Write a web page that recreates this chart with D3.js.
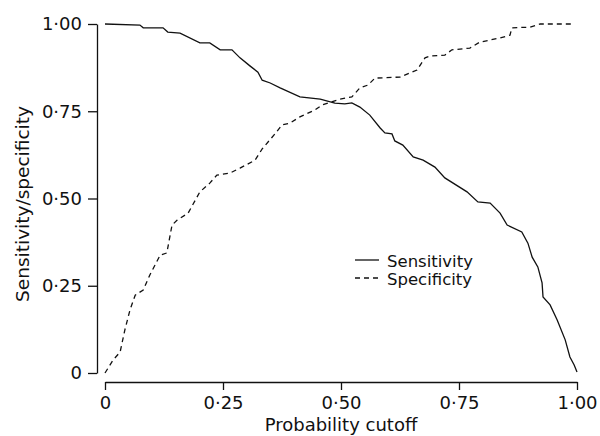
<!DOCTYPE html>
<html>
<head>
<meta charset="utf-8">
<script src="https://cdn.jsdelivr.net/npm/d3@7"></script>
<style>
  body { margin: 0; background: #fff; }
  text { font-family: "DejaVu Sans", sans-serif; fill: #111; }
</style>
</head>
<body>
<script>
// values (x = probability cutoff)
const sensCutoff = [0, 0.074, 0.081, 0.123, 0.133, 0.159, 0.201, 0.222, 0.244, 0.269, 0.286, 0.307, 0.324, 0.333, 0.350, 0.371, 0.413, 0.456, 0.487, 0.508, 0.523, 0.540, 0.561, 0.583, 0.593, 0.608, 0.614, 0.631, 0.653, 0.674, 0.699, 0.720, 0.767, 0.790, 0.816, 0.837, 0.852, 0.883, 0.896, 0.905, 0.917, 0.926, 0.928, 0.943, 0.958, 0.975, 0.985, 0.994, 1.0];
const sensitivity = [1.0, 0.997, 0.989, 0.989, 0.977, 0.974, 0.946, 0.946, 0.926, 0.926, 0.903, 0.880, 0.862, 0.839, 0.831, 0.817, 0.791, 0.785, 0.773, 0.771, 0.774, 0.762, 0.739, 0.702, 0.688, 0.685, 0.665, 0.653, 0.619, 0.610, 0.590, 0.559, 0.519, 0.490, 0.487, 0.458, 0.424, 0.404, 0.372, 0.332, 0.304, 0.258, 0.218, 0.195, 0.152, 0.095, 0.046, 0.023, 0.003];

const specCutoff = [0, 0.017, 0.032, 0.042, 0.053, 0.064, 0.081, 0.095, 0.117, 0.131, 0.142, 0.153, 0.176, 0.201, 0.222, 0.237, 0.265, 0.286, 0.318, 0.333, 0.360, 0.375, 0.392, 0.413, 0.445, 0.460, 0.498, 0.523, 0.540, 0.557, 0.572, 0.625, 0.661, 0.678, 0.689, 0.720, 0.735, 0.773, 0.794, 0.837, 0.858, 0.862, 0.900, 0.922, 0.992];
const specificity = [0, 0.037, 0.060, 0.123, 0.181, 0.223, 0.238, 0.281, 0.338, 0.344, 0.424, 0.438, 0.458, 0.519, 0.544, 0.567, 0.573, 0.587, 0.610, 0.642, 0.685, 0.711, 0.716, 0.734, 0.754, 0.768, 0.785, 0.791, 0.817, 0.825, 0.845, 0.848, 0.868, 0.903, 0.908, 0.911, 0.926, 0.931, 0.948, 0.960, 0.968, 0.989, 0.991, 1.0, 1.0];

const ticks = [0, 0.25, 0.5, 0.75, 1];
const tickLabels = ["0", "0·25", "0·50", "0·75", "1·00"];
const seriesNames = ["Sensitivity", "Specificity"];

const width = 600, height = 436;

const svg = d3.select('body')
    .append('svg')
    .attr('width', width)
    .attr('height', height);

const x = d3.scaleLinear().domain([0, 1]).range([105, 577]);
const y = d3.scaleLinear().domain([0, 1]).range([373, 24]);

// y axis sits a bit left of x = 0, x axis a bit below y = 0
svg.append('g')
    .attr('transform', 'translate(97,0)')
    .call(d3.axisLeft(y).tickValues(ticks).tickSize(9).tickSizeOuter(0).tickPadding(6)
        .tickFormat((d, i) => tickLabels[i]));

svg.append('g')
    .attr('transform', 'translate(0,382)')
    .call(d3.axisBottom(x).tickValues(ticks).tickSize(8).tickSizeOuter(0).tickPadding(6)
        .tickFormat((d, i) => tickLabels[i]));

svg.selectAll('.domain, .tick line')
    .attr('stroke', '#111')
    .attr('stroke-width', 1.3);
svg.selectAll('.tick text')
    .style('font-family', '"DejaVu Sans", sans-serif')
    .style('font-size', '18px')
    .attr('fill', '#111');

svg.append('text')
    .attr('x', 341)
    .attr('y', 431)
    .attr('text-anchor', 'middle')
    .style('font-size', '18px')
    .text('Probability cutoff');

svg.append('text')
    .attr('transform', 'translate(29,204) rotate(-90)')
    .attr('text-anchor', 'middle')
    .style('font-size', '18.5px')
    .text('Sensitivity/specificity');

const line = d3.line()
    .x(d => x(d[0]))
    .y(d => y(d[1]));

svg.append('path')
    .datum(d3.zip(sensCutoff, sensitivity))
    .attr('d', line)
    .attr('fill', 'none')
    .attr('stroke', '#111')
    .attr('stroke-width', 1.3);

svg.append('path')
    .datum(d3.zip(specCutoff, specificity))
    .attr('d', line)
    .attr('fill', 'none')
    .attr('stroke', '#111')
    .attr('stroke-width', 1.3)
    .attr('stroke-dasharray', '5,4');

// legend
const legend = svg.append('g').attr('transform', 'translate(355,260)');
legend.selectAll('line')
    .data(seriesNames)
    .join('line')
    .attr('x1', 0).attr('x2', 24)
    .attr('y1', (d, i) => i * 18).attr('y2', (d, i) => i * 18)
    .attr('stroke', '#111')
    .attr('stroke-width', 1.3)
    .attr('stroke-dasharray', (d, i) => i ? '5,4' : null);
legend.selectAll('text')
    .data(seriesNames)
    .join('text')
    .attr('x', 32)
    .attr('y', (d, i) => i * 18 + 7)
    .style('font-size', '16.5px')
    .text(d => d);
</script>
</body>
</html>
